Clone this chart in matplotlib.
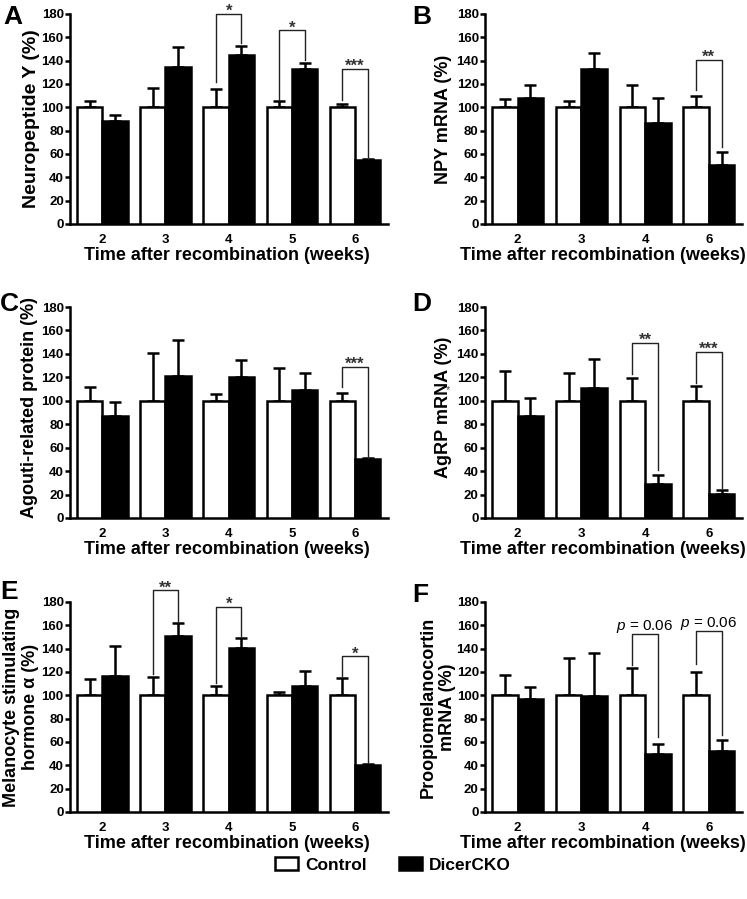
import numpy as np
import matplotlib.pyplot as plt
from matplotlib.patches import Patch

plt.rcParams['font.family'] = ['Liberation Sans', 'DejaVu Sans']
plt.rcParams['mathtext.fontset'] = 'custom'
plt.rcParams['mathtext.it'] = 'Liberation Sans:italic'
plt.rcParams['mathtext.rm'] = 'Liberation Sans'

W, H = 747, 899  # tamaño en píxeles

# semanas tras la recombinación
weeks5 = ['2', '3', '4', '5', '6']
weeks4 = ['2', '3', '4', '6']

# A: Neuropeptide Y
npy_ctrl = [100, 100, 100, 100, 100]
npy_ctrl_err = [5, 17, 16, 5, 3]
npy_cko = [88, 135, 145, 133, 55]
npy_cko_err = [5.5, 17, 8, 5, 1]
npy_sig = [(2, 180, 122, 155, '*'), (3, 166, 106, 141, '*'), (4, 133, 106, 56, '***')]

# B: NPY mRNA
npym_ctrl = [100, 100, 100, 100]
npym_ctrl_err = [7, 5, 19.5, 9.5]
npym_cko = [108, 132.5, 87, 51]
npym_cko_err = [11, 14, 21, 10.5]
npym_sig = [(3, 140.5, 114.5, 66, '**')]

# C: Agouti-related protein
agrp_ctrl = [100, 100, 100, 100, 100]
agrp_ctrl_err = [12, 41, 6, 28, 7]
agrp_cko = [87, 121, 120, 109.5, 50]
agrp_cko_err = [12, 31, 14.5, 14, 1]
agrp_sig = [(4, 129, 112, 51, '***')]

# D: AgRP mRNA
agrpm_ctrl = [100, 100, 100, 100]
agrpm_ctrl_err = [25.5, 24, 19.5, 13]
agrpm_cko = [87, 110.5, 29, 20.5]
agrpm_cko_err = [15, 25, 7.5, 3.5]
agrpm_sig = [(2, 149.5, 123, 41, '**'), (3, 141.5, 115, 25.5, '***')]

# E: alpha-MSH
msh_ctrl = [100, 100, 100, 100, 100]
msh_ctrl_err = [14, 15.5, 8, 3, 15]
msh_cko = [117, 151, 140.5, 108, 40]
msh_cko_err = [25, 11, 8.5, 12.5, 1.5]
msh_sig = [(1, 190, 118, 163, '**'), (2, 176, 110.5, 150.5, '*'), (4, 133.5, 117, 42, '*')]

# F: POMC mRNA
pomc_ctrl = [100, 100, 100, 100]
pomc_ctrl_err = [17.5, 32, 23.5, 20]
pomc_cko = [96.5, 99.5, 50, 52]
pomc_cko_err = [11, 37, 8, 10]
pomc_sig = [(2, 152.5, 126, 64.5, 'p'), (3, 155, 127, 66, 'p')]

fig = plt.figure(figsize=(W / 100, H / 100), dpi=100)
bw = 0.4


def panel(rect, letter, letter_pos, ylabel, ylabel_pos, xlabel_x, cats, ctrl, ctrl_err, cko, cko_err, sig,
          ysize=13):
    l, t, r, b = rect
    ax = fig.add_axes([l / W, 1 - b / H, (r - l) / W, (b - t) / H])
    x = np.arange(len(cats))
    zeros = np.zeros(len(x))
    ax.bar(x - bw / 2, ctrl, bw, color='white', edgecolor='black', linewidth=1.8, zorder=3)
    ax.bar(x + bw / 2, cko, bw, color='black', edgecolor='black', linewidth=1.8, zorder=3)
    ax.errorbar(x - bw / 2, ctrl, yerr=[zeros, ctrl_err], fmt='none', ecolor='black',
                elinewidth=1.8, capsize=4, capthick=1.8, zorder=2)
    ax.errorbar(x + bw / 2, cko, yerr=[zeros, cko_err], fmt='none', ecolor='black',
                elinewidth=1.8, capsize=4, capthick=1.8, zorder=2)
    for gi, top, yl, yr, txt in sig:
        x0, x1 = gi - bw / 2, gi + bw / 2
        ax.plot([x0, x0, x1, x1], [yl, top, top, yr], color='#222222', lw=1.0,
                clip_on=False, zorder=4)
        if txt == 'p':
            ax.annotate(r'$p$ = 0.06', (gi, top), xytext=(0, 3), textcoords='offset points',
                        ha='center', va='baseline', fontsize=11, annotation_clip=False)
        else:
            ax.annotate(txt, (gi, top), xytext=(0, -1.5), textcoords='offset points',
                        ha='center', va='baseline', fontsize=12, fontweight='bold',
                        color='#333333', annotation_clip=False)
    ax.set_xlim(-0.51, len(cats) - 0.48)
    ax.set_ylim(0, 180)
    ax.set_yticks(range(0, 181, 20))
    ax.set_xticks(x, cats)
    for s in ['top', 'right']:
        ax.spines[s].set_visible(False)
    for s in ['left', 'bottom']:
        ax.spines[s].set_linewidth(1.8)
    ax.tick_params(axis='x', length=0, pad=7, labelsize=9.5)
    ax.tick_params(axis='y', length=3.5, width=1.8, pad=1, labelsize=9.5)
    for lbl in ax.get_xticklabels() + ax.get_yticklabels():
        lbl.set_fontweight('bold')
    ax.set_xlabel('Time after recombination (weeks)', fontsize=13, fontweight='bold')
    ax.xaxis.set_label_coords((xlabel_x - l) / (r - l), -0.108)
    ax.xaxis.label.set_va('top')
    fig.text(ylabel_pos[0] / W, 1 - ylabel_pos[1] / H, ylabel, rotation=90, ha='center',
             va='center', fontsize=ysize, fontweight='bold', linespacing=1.15)
    fig.text(letter_pos[0] / W, 1 - letter_pos[1] / H, letter, ha='left', va='top',
             fontsize=19, fontweight='bold')
    return ax


panel((70, 14, 388, 224), 'A', (3, 5), 'Neuropeptide Y (%)', (32, 119), 227, weeks5,
      npy_ctrl, npy_ctrl_err, npy_cko, npy_cko_err, npy_sig, ysize=14)
panel((485, 14, 742, 224), 'B', (412, 5), 'NPY mRNA (%)', (443, 119), 603, weeks4,
      npym_ctrl, npym_ctrl_err, npym_cko, npym_cko_err, npym_sig)
panel((70, 307, 388, 518), 'C', (0, 292), 'Agouti-related protein (%)', (30, 408), 227, weeks5,
      agrp_ctrl, agrp_ctrl_err, agrp_cko, agrp_cko_err, agrp_sig)
panel((485, 307, 742, 518), 'D', (412, 292), 'AgRP mRNA (%)', (443, 407), 603, weeks4,
      agrpm_ctrl, agrpm_ctrl_err, agrpm_cko, agrpm_cko_err, agrpm_sig)
panel((70, 602, 388, 812), 'E', (0, 580), 'Melanocyte stimulating\nhormone α (%)', (21, 707), 227, weeks5,
      msh_ctrl, msh_ctrl_err, msh_cko, msh_cko_err, msh_sig)
panel((485, 602, 742, 812), 'F', (412, 583), 'Proopiomelanocortin\nmRNA (%)', (438, 707), 603, weeks4,
      pomc_ctrl, pomc_ctrl_err, pomc_cko, pomc_cko_err, pomc_sig)

# asterisco suelto sobre la etiqueta de D
fig.text(448 / W, 1 - 390 / H, '*', fontsize=8, color='#444444', ha='center', va='center')

handles = [Patch(facecolor='white', edgecolor='black', linewidth=1.8, label='Control'),
           Patch(facecolor='black', edgecolor='black', linewidth=1.8, label='DicerCKO')]
fig.legend(handles=handles, loc='center', bbox_to_anchor=(393 / W, 1 - 865 / H), ncol=2,
           frameon=False, prop={'weight': 'bold', 'size': 12.5}, handlelength=1.3,
           handleheight=0.7, handletextpad=0.4, columnspacing=1.9)

fig.savefig('out.png', dpi=100)
